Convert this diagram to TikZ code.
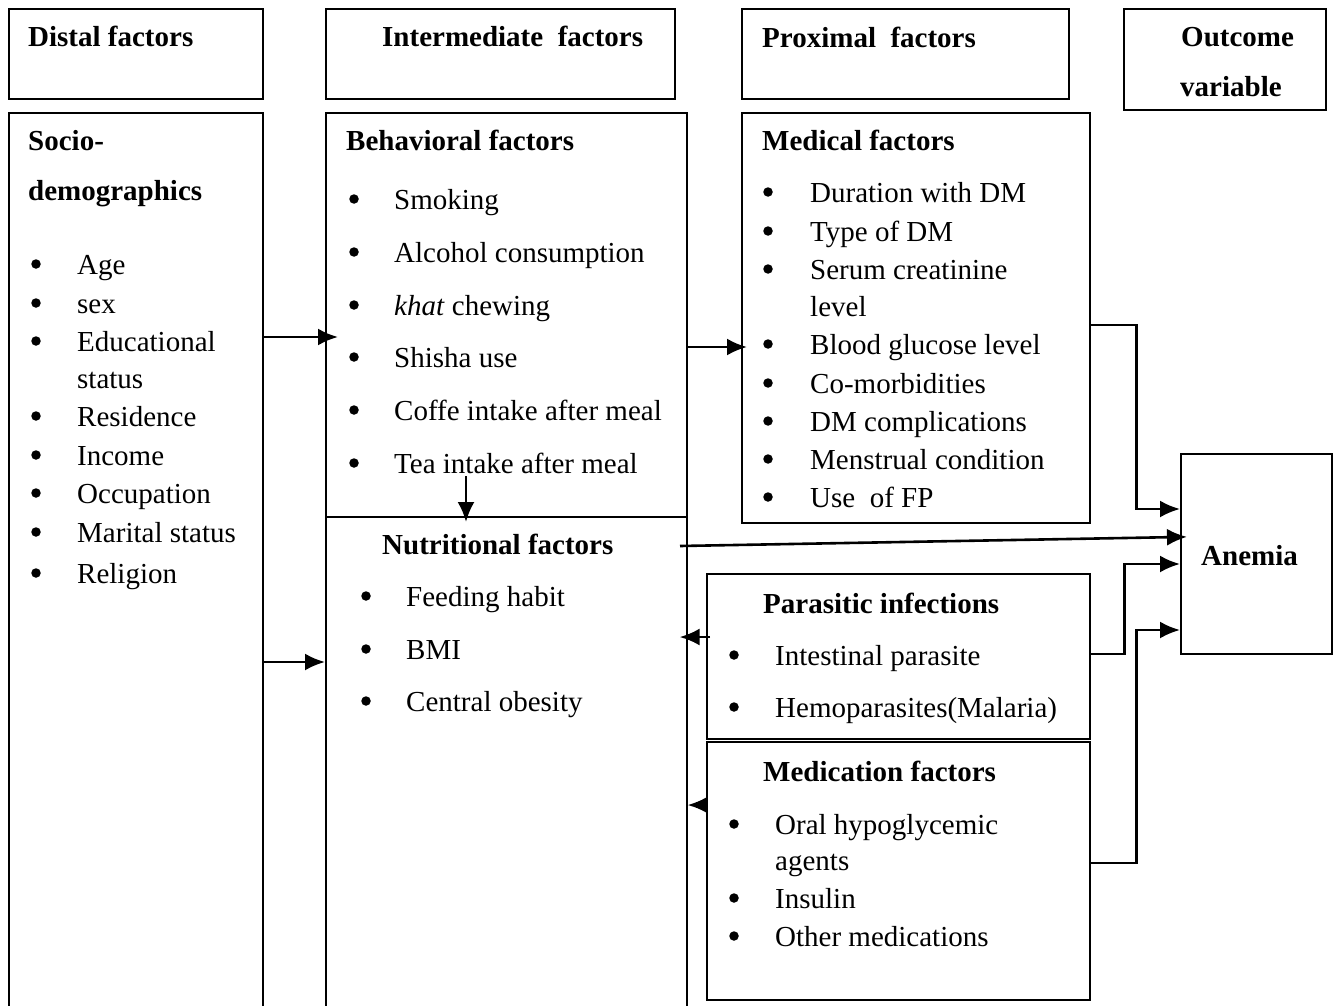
\documentclass[tikz,border=0pt]{standalone}
\usepackage{fontspec}
\setmainfont{Liberation Serif}
\usetikzlibrary{arrows.meta}

\begin{document}
\begin{tikzpicture}[x=1pt,y=-1pt,
  box/.style={draw,line width=1.6pt,anchor=north west,inner sep=0pt},
  hd/.style={anchor=base west,inner sep=0pt,font=\fontsize{29}{34}\selectfont\bfseries},
  txt/.style={anchor=base west,inner sep=0pt,font=\fontsize{29}{34}\selectfont},
  bul/.style={circle,fill,inner sep=0pt,minimum size=9.5pt,yshift=10pt},
  link/.style={line width=2.6pt},
  conn/.style={link,-{Latex[length=20pt,width=17pt]}}]
\useasboundingbox (0,0) rectangle (1333,1006);
\clip (0,0) rectangle (1333,1006);
% header row
\node[box,minimum width=254pt,minimum height=90pt] (distalH) at (8,8) {};
\node[box,minimum width=349pt,minimum height=90pt] (interH) at (325,8) {};
\node[box,minimum width=327pt,minimum height=90pt] (proxH) at (741,8) {};
\node[box,minimum width=202pt,minimum height=101pt] (outH) at (1123,8) {};
\node[hd] (distalT) at (28,47) {Distal factors};
\node[hd] (interT) at (382,47) {Intermediate\ \ factors};
\node[hd] (proxT) at (762,48) {Proximal\ \ factors};
\node[hd] (outT1) at (1181,47) {Outcome};
\node[hd] (outT2) at (1180,97) {variable};
% factor boxes
\node[box,minimum width=254pt,minimum height=910pt] (socio) at (8,112) {};
\node[box,minimum width=361pt,minimum height=404pt] (behav) at (325,112) {};
\node[box,minimum width=361pt,minimum height=510pt] (nutri) at (325,516) {};
\node[box,minimum width=348pt,minimum height=410pt] (medical) at (741,112) {};
\node[box,minimum width=383pt,minimum height=165pt] (paras) at (706,573) {};
\node[box,minimum width=383pt,minimum height=258pt] (medic) at (706,741) {};
\node[box,minimum width=151pt,minimum height=200pt] (anemia) at (1180,453) {};
% socio-demographics
\node[hd] (socT1) at (28,150) {Socio-};
\node[hd] (socT2) at (28,200) {demographics};
\foreach \t/\yy [count=\i] in {Age/274, sex/313, Educational/351, Residence/426,
    Income/465, Occupation/503, Marital status/542, Religion/583}{
  \node[bul] (socB\i) at (36,\yy) {};
  \node[txt] (socI\i) at (77,\yy) {\t};
}
\node[txt] (socI3b) at (77,388) {status};
% behavioral
\node[hd] (behT) at (346,150) {Behavioral factors};
\foreach \t/\yy [count=\i] in {Smoking/209, Alcohol consumption/262,
    \textit{khat} chewing/315, Shisha use/367, Coffe intake after meal/420,
    Tea intake after meal/473}{
  \node[bul] (behB\i) at (354,\yy) {};
  \node[txt] (behI\i) at (394,\yy) {\t};
}
% nutritional
\node[hd] (nutT) at (382,554) {Nutritional factors};
\foreach \t/\yy [count=\i] in {Feeding habit/606, BMI/659, Central obesity/711}{
  \node[bul] (nutB\i) at (366,\yy) {};
  \node[txt] (nutI\i) at (406,\yy) {\t};
}
% medical
\node[hd] (medT) at (762,150) {Medical factors};
\foreach \t/\yy [count=\i] in {Duration with DM/202, Type of DM/241,
    Serum creatinine/279, Blood glucose level/354, Co-morbidities/393,
    DM complications/431, Menstrual condition/469, Use\ \ of FP/507}{
  \node[bul] (medB\i) at (768,\yy) {};
  \node[txt] (medI\i) at (810,\yy) {\t};
}
\node[txt] (medI3b) at (810,316) {level};
% parasitic
\node[hd] (parT) at (763,613) {Parasitic infections};
\foreach \t/\yy [count=\i] in {Intestinal parasite/665, Hemoparasites(Malaria)/717}{
  \node[bul] (parB\i) at (734,\yy) {};
  \node[txt] (parI\i) at (775,\yy) {\t};
}
% medication
\node[hd] (mdcT) at (763,781) {Medication factors};
\foreach \t/\yy [count=\i] in {Oral hypoglycemic/834, Insulin/908, Other medications/946}{
  \node[bul] (mdcB\i) at (734,\yy) {};
  \node[txt] (mdcI\i) at (775,\yy) {\t};
}
\node[txt] (mdcI1b) at (775,870) {agents};
% outcome
\node[hd] (anemT) at (1201,565) {Anemia};
% connectors
\coordinate (teaDown) at (466,476);
\coordinate (nutOut) at (680,546);
\draw[conn,shorten >=-13pt] (socio.east |- 0,337) -- (behav.west |- 0,337);
\draw[conn] (socio.east |- 0,662) -- (nutri.west |- 0,662);
\draw[conn,shorten >=-6pt] (behav.east |- 0,347) -- (medical.west |- 0,347);
\draw[conn,shorten >=-6pt] (teaDown) -- (nutri.north -| teaDown);
\draw[conn,shorten >=-7pt] (nutOut) -- (anemia.west |- 0,537);
\draw[conn,shorten <=-4pt,shorten >=-8pt] (paras.west |- 0,637) -- (nutri.east |- 0,637);
\draw[conn] (medic.west |- 0,805) -- (nutri.east |- 0,805);
\draw[conn] (medical.east |- 0,325) -- ++(46,0) |- (anemia.west |- 0,509);
\draw[conn] (paras.east |- 0,654) -- ++(34,0) |- (anemia.west |- 0,564);
\draw[conn] (medic.east |- 0,863) -- ++(46,0) |- (anemia.west |- 0,630);
\end{tikzpicture}
\end{document}
